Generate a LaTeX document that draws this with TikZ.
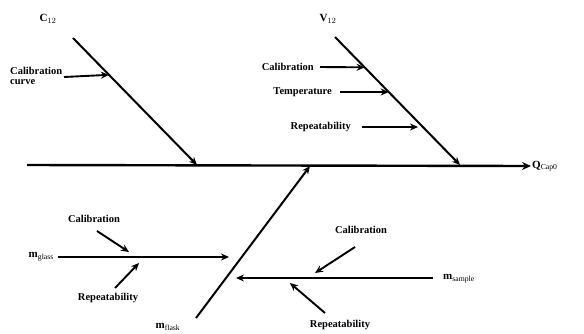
\documentclass[tikz,border=0pt]{standalone}
\usepackage{fontspec}
\setmainfont{Liberation Serif}
\usepackage{xcolor}
\usetikzlibrary{arrows.meta,positioning,calc}
\definecolor{ink}{HTML}{000000}
\newcommand{\hd}{\bfseries}

\begin{document}
\begin{tikzpicture}[
  x=1pt, y=-1pt,
  font=\fontsize{10.5}{10.5}\selectfont\hd,
  every node/.style={align=left, inner sep=1pt},
  lbl/.style={font=\fontsize{11}{11}\selectfont\hd},
  spine/.style={line width=2.4pt, draw=ink, -{Stealth[length=9pt, width=8pt]}},
  bone/.style={line width=2pt, draw=ink, -{Stealth[length=8pt, width=7pt]}},
  arr/.style={line width=1.9pt, draw=ink, -{Stealth[length=8pt, width=7pt]}},
]
\useasboundingbox (0,0) rectangle (584,333);
% main spine
\coordinate (s0) at (27,165);
\node[lbl, anchor=west] (q) at (531,166) {Q$_{\mathrm{Cap0}}$};
\draw[spine] (s0) -- (q.west);
% upper branches
\node[lbl] (c) at (48,19) {C$_{12}$};
\coordinate (ctop) at (73,38);
\coordinate (cend) at (197,165);
\draw[bone] (ctop) -- (cend);
\node[lbl] (v) at (328,19) {V$_{12}$};
\coordinate (vtop) at (335,37);
\coordinate (vend) at (460,165);
\draw[bone] (vtop) -- (vend);
% lower branches
\node[lbl] (mf) at (168,327) {m$_{\mathrm{flask}}$};
\coordinate (mftail) at (196,318);
\coordinate (mfend) at (310,166);
\draw[bone] (mftail) -- (mfend);
\node[lbl, anchor=east] (mg) at (55,257) {m$_{\mathrm{glass}}$};
\coordinate (mgend) at (229,257);
\draw[bone] ([xshift=3pt]mg.east) -- (mgend);
\node[lbl, anchor=west] (ms) at (442,279) {m$_{\mathrm{sample}}$};
\coordinate (mstail) at (433,278);
\coordinate (msend) at (236,278);
\draw[bone] (mstail) -- (msend);
% causes on C
\node[anchor=north west] (cc) at (9,66) {Calibration\\curve};
\coordinate (cctail) at (64,77);
\draw[arr] (cctail) -- ($(ctop)!0.29!(cend)$);
% causes on V
\node[anchor=east] (vc) at (315,67) {Calibration};
\draw[arr] ([xshift=5pt]vc.east) -- ($(vtop)!0.237!(vend)$);
\node[anchor=east] (vt) at (333,92) {Temperature};
\draw[arr] ([xshift=7pt]vt.east) -- ($(vtop)!0.43!(vend)$);
\node[anchor=east] (vr) at (352,127) {Repeatability};
\coordinate (vrend) at (418,127);
\draw[arr] ([xshift=10pt]vr.east) -- (vrend);
% causes on m_glass
\node (gc) at (94,219) {Calibration};
\coordinate (gctail) at (97,231);
\coordinate (gcend) at (129,252);
\draw[arr] (gctail) -- (gcend);
\node (gr) at (108,298) {Repeatability};
\coordinate (grtail) at (115,288);
\coordinate (grend) at (139,263);
\draw[arr] (grtail) -- (grend);
% causes on m_sample
\node (sc) at (361,230) {Calibration};
\coordinate (sctail) at (355,247);
\coordinate (scend) at (315,273);
\draw[arr] (sctail) -- (scend);
\node (sr) at (340,325) {Repeatability};
\coordinate (srtail) at (325,313);
\coordinate (srend) at (290,283);
\draw[arr] (srtail) -- (srend);
\end{tikzpicture}
\end{document}
